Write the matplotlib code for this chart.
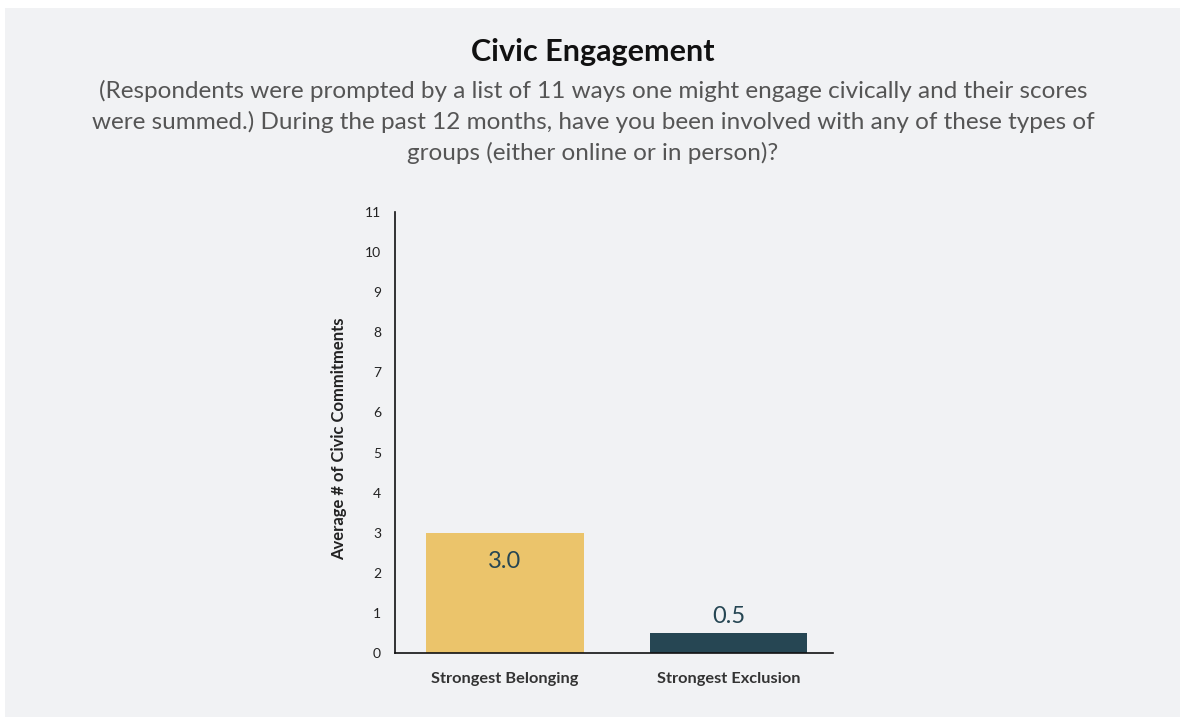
import matplotlib.pyplot as plt
import matplotlib.patches as mpatches

plt.rcParams['font.family'] = ['Lato', 'DejaVu Sans']

categories = ['Strongest Belonging', 'Strongest Exclusion']
values = [3.0, 0.5]
bar_colors = ['#EBC46B', '#264653']
yticks = list(range(0, 12))

title = 'Civic Engagement'
subtitle = ('(Respondents were prompted by a list of 11 ways one might engage civically and their scores\n'
            'were summed.) During the past 12 months, have you been involved with any of these types of\n'
            'groups (either online or in person)?')
ylabel = 'Average # of Civic Commitments'

bg = '#f1f2f4'
fig = plt.figure(figsize=(11.8, 7.17), dpi=100)
fig.patch.set_facecolor('white')
fig.patches.append(mpatches.Rectangle((5 / 1180, 0), 1 - 5 / 1180, 1 - 8 / 717,
                                      transform=fig.transFigure, facecolor=bg,
                                      edgecolor='none', zorder=-10))

ax = fig.add_axes([395 / 1180, 64 / 717, 438 / 1180, 441 / 717])
ax.set_facecolor(bg)
ax.patch.set_alpha(0)

x = range(len(categories))
bars = ax.bar(x, values, width=0.705, color=bar_colors, zorder=2)

ax.set_xlim(-0.49, 1.467)
ax.set_ylim(0, 11)
ax.set_yticks(yticks)
ax.set_yticklabels([str(t) for t in yticks], fontsize=10, color='#222222')
ax.tick_params(axis='y', length=0, pad=10)
ax.tick_params(axis='x', length=0, pad=14)
ax.set_xticks(list(x))
ax.set_xticklabels(categories, fontsize=11.8, fontweight='bold', color='#333333')

for s in ['top', 'right']:
    ax.spines[s].set_visible(False)
for s in ['left', 'bottom']:
    ax.spines[s].set_color('#111111')
    ax.spines[s].set_linewidth(1.2)

ax.set_ylabel(ylabel, fontsize=12, fontweight='bold', color='#222222')
ax.yaxis.set_label_coords(-0.11, 0.485)

# value labels: inside the tall bar, above the short one
for b, v in zip(bars, values):
    cx = b.get_x() + b.get_width() / 2
    if v > 1.5:
        ax.text(cx, v - 0.45, f'{v:.1f}', ha='center', va='top', fontsize=17, color='#264653')
    else:
        ax.text(cx, v + 0.15, f'{v:.1f}', ha='center', va='bottom', fontsize=17, color='#264653')

fig.text(593 / 1180, 1 - 52 / 717, title, ha='center', va='center',
         fontsize=22, fontweight='bold', color='#111111')
fig.text(593 / 1180, 1 - 122 / 717, subtitle, ha='center', va='center',
         fontsize=17.5, color='#555555', linespacing=1.5)

fig.savefig('out.png', dpi=100, facecolor=fig.get_facecolor())
